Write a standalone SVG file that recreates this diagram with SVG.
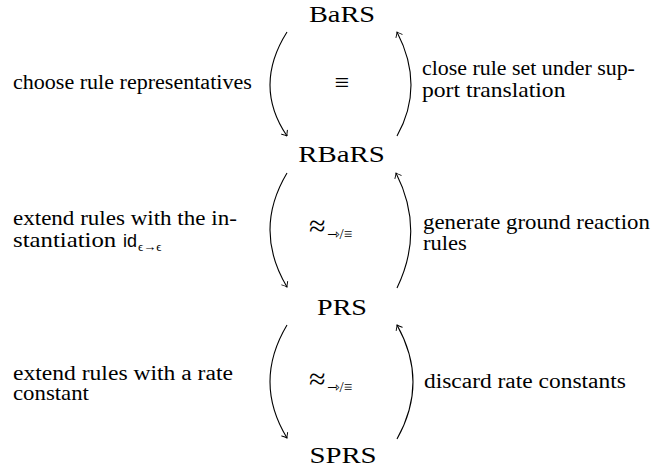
<svg xmlns="http://www.w3.org/2000/svg" width="655" height="474" viewBox="0 0 655 474">
<style>
.node{font-family:'Liberation Serif',serif;font-size:24px;fill:#000;text-anchor:middle}
.lbl{font-family:'Liberation Serif',serif;font-size:20px;fill:#000}
.sym{font-family:'Liberation Serif','DejaVu Sans',serif;fill:#000}
.sub{font-family:'Liberation Serif','DejaVu Sans',serif;fill:#000}
.arr{fill:none;stroke:#000;stroke-width:1.1;marker-end:url(#tip)}
</style>
<defs>
<marker id="tip" viewBox="-6 -5 8 10" markerWidth="8" markerHeight="10" refX="0" refY="0" orient="auto" markerUnits="userSpaceOnUse">
<path d="M -4.5 -3.5 Q -1.5 -0.8 0 0 Q -1.5 0.8 -4.5 3.5" fill="none" stroke="#000" stroke-width="0.9" stroke-linecap="round"/>
</marker>
</defs>
<rect width="655" height="474" fill="#fff"/>
<g id="BaRS"><text class="node" transform="translate(342,22) scale(1.18,1)">BaRS</text></g>
<g id="RBaRS"><text class="node" transform="translate(341.5,162) scale(1.2,1)">RBaRS</text></g>
<g id="PRS"><text class="node" transform="translate(342,315) scale(1.17,1)">PRS</text></g>
<g id="SPRS"><text class="node" transform="translate(343,463) scale(1.2,1)">SPRS</text></g>
<g id="connectors">
<path class="arr" d="M287,32 Q253,86 287,136"/>
<path class="arr" d="M397,136 Q425,86 397,32"/>
<path class="arr" d="M287,173 Q253,230 287,287"/>
<path class="arr" d="M397,288 Q425,230 396,173"/>
<path class="arr" d="M287,325 Q253,382 287,438"/>
<path class="arr" d="M397,439 Q429,382 397,325"/>
</g>
<g id="rel1"><text class="sym" x="342" y="91" font-size="26" text-anchor="middle">≡</text></g>
<g id="rel2"><text class="sym" x="309" y="236" font-size="30">≈</text><text class="sub" x="327" y="239" font-size="15">⇾/≡</text></g>
<g id="rel3"><text class="sym" x="309" y="389" font-size="30">≈</text><text class="sub" x="327" y="392" font-size="15">⇾/≡</text></g>
<g id="labels">
<text class="lbl" transform="translate(13,89) scale(1.103,1)">choose rule representatives</text>
<text class="lbl" transform="translate(422,75) scale(1.096,1)">close rule set under sup-</text>
<text class="lbl" transform="translate(422,97) scale(1.18,1)">port translation</text>
<text class="lbl" transform="translate(13,225) scale(1.152,1)">extend rules with the in-</text>
<text class="lbl" transform="translate(13,247) scale(1.24,1)">stantiation</text>
<text x="123" y="247" font-family="Liberation Sans, sans-serif" font-size="18">id</text>
<text x="138" y="251" font-family="Liberation Serif, DejaVu Sans, serif" font-size="13">ϵ→ϵ</text>
<text class="lbl" transform="translate(423,229) scale(1.142,1)">generate ground reaction</text>
<text class="lbl" transform="translate(423,250) scale(1.13,1)">rules</text>
<text class="lbl" transform="translate(13,380) scale(1.179,1)">extend rules with a rate</text>
<text class="lbl" transform="translate(13,400) scale(1.14,1)">constant</text>
<text class="lbl" transform="translate(424,388) scale(1.173,1)">discard rate constants</text>
</g>
</svg>
